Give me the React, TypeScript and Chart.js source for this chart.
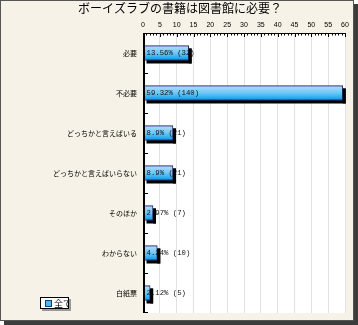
import React, { useEffect, useRef } from "react";
import { Chart, registerables } from "chart.js";
Chart.register(...registerables);

const chartTitle = "ボーイズラブの書籍は図書館に必要？";
const categories = [
  "必要",
  "不必要",
  "どっちかと言えばいる",
  "どっちかと言えばいらない",
  "そのほか",
  "わからない",
  "白紙票",
];
const percents = [13.56, 59.32, 8.9, 8.9, 2.97, 4.24, 2.12];
const counts = [32, 140, 21, 21, 7, 10, 5];
const seriesName = "全て";
const axisMin = 0;
const axisMax = 60;
const axisStep = 5;

const W = 358;
const H = 325;

function barGradient(ctx: CanvasRenderingContext2D, top: number, bottom: number) {
  const g = ctx.createLinearGradient(0, top, 0, bottom);
  g.addColorStop(0, "#7a5cc8");
  g.addColorStop(0.12, "#a6d8fa");
  g.addColorStop(0.5, "#6cc6f6");
  g.addColorStop(0.85, "#22a8f0");
  g.addColorStop(1, "#1a62c0");
  return g;
}

const framePlugin = {
  id: "frame",
  beforeDraw(chart: any) {
    const { ctx, chartArea } = chart;
    ctx.save();
    ctx.fillStyle = "#ffffff";
    ctx.fillRect(0, 0, W, H);
    ctx.fillStyle = "#3c3c3c";
    ctx.fillRect(4, 4, W - 4, H - 4);
    ctx.fillStyle = "#f6f2e7";
    ctx.fillRect(0, 0, W - 4, H - 4);
    ctx.strokeStyle = "#555";
    ctx.lineWidth = 1;
    ctx.strokeRect(0.5, 0.5, W - 5, H - 5);
    ctx.fillStyle = "#ffffff";
    ctx.fillRect(chartArea.left, chartArea.top, chartArea.right - chartArea.left, chartArea.bottom - chartArea.top);
    ctx.fillStyle = "#000";
    ctx.font = "12px 'Noto Sans CJK JP'";
    ctx.textAlign = "center";
    ctx.textBaseline = "middle";
    ctx.fillText(chartTitle, 180, 8.5);
    ctx.restore();
  },
  beforeDatasetsDraw(chart: any) {
    const { ctx } = chart;
    const meta = chart.getDatasetMeta(0);
    ctx.save();
    ctx.fillStyle = "#000";
    meta.data.forEach((el: any) => {
      const h = el.height;
      ctx.fillRect(el.base + 3, el.y - h / 2 + 3, el.x - el.base, h);
    });
    ctx.restore();
  },
  afterDatasetsDraw(chart: any) {
    const { ctx, chartArea, scales } = chart;
    const meta = chart.getDatasetMeta(0);
    ctx.save();
    ctx.font = "7.3px 'Liberation Mono'";
    ctx.textAlign = "left";
    ctx.textBaseline = "middle";
    ctx.fillStyle = "#111";
    meta.data.forEach((el: any, i: number) => {
      ctx.fillText(`${percents[i]}% (${counts[i]})`, el.base + 3, el.y + 0.5);
    });
    ctx.fillStyle = "#000";
    meta.data.forEach((el: any) => {
      const h = el.height;
      ctx.fillRect(el.x, el.y - h / 2 + 3, 3, h);
    });
    const x = scales.x;
    ctx.strokeStyle = "#000";
    ctx.lineWidth = 1;
    ctx.beginPath();
    ctx.moveTo(chartArea.left, chartArea.top + 0.5);
    ctx.lineTo(chartArea.right, chartArea.top + 0.5);
    for (let v = axisMin; v <= axisMax; v++) {
      const px = Math.round(x.getPixelForValue(v)) + 0.5;
      const len = v % axisStep === 0 ? 4 : 2.5;
      ctx.moveTo(px, chartArea.top);
      ctx.lineTo(px, chartArea.top + len);
    }
    ctx.stroke();
    const y = scales.y;
    ctx.lineWidth = 2;
    ctx.beginPath();
    ctx.moveTo(chartArea.left + 1, chartArea.top);
    ctx.lineTo(chartArea.left + 1, chartArea.bottom);
    ctx.stroke();
    ctx.lineWidth = 1;
    ctx.beginPath();
    for (let i = 0; i < categories.length - 1; i++) {
      const py = Math.round((y.getPixelForValue(i) + y.getPixelForValue(i + 1)) / 2) + 0.5;
      ctx.moveTo(chartArea.left, py);
      ctx.lineTo(chartArea.left + 5, py);
    }
    const pb = Math.round(chartArea.bottom) - 0.5;
    ctx.moveTo(chartArea.left, pb);
    ctx.lineTo(chartArea.left + 5, pb);
    ctx.stroke();
    ctx.restore();
  },
  afterDraw(chart: any) {
    const { ctx } = chart;
    ctx.save();
    const lx = 40, ly = 297, lw = 29, lh = 12;
    ctx.fillStyle = "#9a9a9a";
    ctx.fillRect(lx + 2, ly + 2, lw, lh);
    ctx.fillStyle = "#ffffff";
    ctx.fillRect(lx, ly, lw, lh);
    ctx.strokeStyle = "#000";
    ctx.lineWidth = 1;
    ctx.strokeRect(lx + 0.5, ly + 0.5, lw - 1, lh - 1);
    ctx.fillStyle = "#4cb8f0";
    ctx.fillRect(lx + 5, ly + 3, 7, 7);
    ctx.strokeStyle = "#1a3a80";
    ctx.strokeRect(lx + 5.5, ly + 3.5, 6, 6);
    ctx.beginPath();
    ctx.rect(lx, ly, lw, lh);
    ctx.clip();
    ctx.fillStyle = "#000";
    ctx.font = "9px 'Noto Sans CJK JP'";
    ctx.textAlign = "left";
    ctx.textBaseline = "middle";
    ctx.fillText(seriesName, lx + 14, ly + 6.5);
    ctx.restore();
  },
};

export default function App() {
  const ref = useRef<HTMLCanvasElement | null>(null);
  useEffect(() => {
    document.body.style.margin = "0";
    const canvas = ref.current!;
    const chart = new Chart(canvas, {
      type: "bar",
      data: {
        labels: categories,
        datasets: [
          {
            label: seriesName,
            data: percents,
            backgroundColor: (c: any) => {
              const ch = c.chart;
              const ys = ch.scales && ch.scales.y;
              if (!ys || c.dataIndex === undefined) return "#4cb8f0";
              const py = ys.getPixelForValue(c.dataIndex);
              if (!isFinite(py)) return "#4cb8f0";
              return barGradient(ch.ctx, py - 7.5, py + 7.5);
            },
            borderColor: "#23306a",
            borderWidth: 1,
            borderSkipped: "start",
            barThickness: 15,
          },
        ],
      },
      options: {
        indexAxis: "y",
        responsive: false,
        animation: false,
        devicePixelRatio: 1,
        layout: { padding: { left: 0, top: 0, right: 13, bottom: 12 } },
        plugins: {
          legend: { display: false },
          title: { display: false },
          tooltip: { enabled: false },
        },
        scales: {
          x: {
            position: "top",
            min: axisMin,
            max: axisMax,
            afterFit: (s: any) => {
              s.height = 33;
            },
            ticks: {
              stepSize: axisStep,
              padding: 4,
              color: "#000",
              font: { family: "'Liberation Sans'", size: 7 },
            },
            grid: { color: "#e2e2e2", drawTicks: false, lineWidth: 1 },
            border: { display: false },
          },
          y: {
            afterFit: (s: any) => {
              s.width = 143;
            },
            ticks: {
              padding: 6,
              color: "#000",
              font: { family: "'Noto Sans CJK JP'", size: 7 },
            },
            grid: { display: false, drawTicks: false },
            border: { display: false },
          },
        },
      },
      plugins: [framePlugin],
    } as any);
    return () => chart.destroy();
  }, []);
  return <canvas ref={ref} width={W} height={H} style={{ display: "block" }} />;
}
